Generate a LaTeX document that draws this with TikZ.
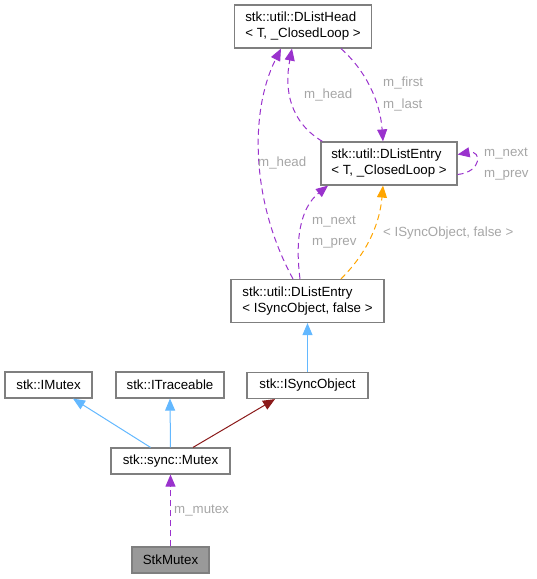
\documentclass[tikz,border=0pt]{standalone}
\usepackage{fontspec}
\setmainfont{Liberation Sans}
\usetikzlibrary{arrows.meta}

\definecolor{inhblue}{HTML}{63B8FF}
\definecolor{usepurple}{HTML}{9A32CD}
\definecolor{tmplorange}{HTML}{FFA500}
\definecolor{privred}{HTML}{8B1A1A}
\definecolor{boxgray}{HTML}{7F7F7F}
\definecolor{lblgray}{HTML}{A6A6A6}

\begin{document}
\begin{tikzpicture}[
    x=1pt, y=-1pt,
    font=\fontsize{13.3}{16}\selectfont,
    every node/.style={inner sep=0pt},
    cls/.style={draw=boxgray, line width=1.2pt, fill=white, align=left, minimum height=26pt},
    cls2/.style={cls, minimum height=43pt},
    tip/.style={-{Triangle[length=12pt,width=10pt]}},
    inh/.style={tip, draw=inhblue, line width=1pt},
    priv/.style={tip, draw=privred, line width=1pt},
    usage/.style={tip, draw=usepurple, line width=1pt, dash pattern=on 6pt off 4pt},
    tmpl/.style={tip, draw=tmplorange, line width=1pt, dash pattern=on 6pt off 4pt},
    lbl/.style={text=lblgray, anchor=west}
]
\useasboundingbox (0,0) rectangle (537,579);

% classes
\node[cls2, minimum width=137pt] (head) at (303,26.5) {stk::util::DListHead\\< T, \_ClosedLoop >};
\node[cls2, minimum width=136pt] (entryT) at (389,163.5) {stk::util::DListEntry\\< T, \_ClosedLoop >};
\node[cls2, minimum width=153pt] (entryS) at (307.5,301) {stk::util::DListEntry\\< ISyncObject, false >};
\node[cls, minimum width=87pt] (imutex) at (48.5,385) {stk::IMutex};
\node[cls, minimum width=108pt] (itrace) at (170,385) {stk::ITraceable};
\node[cls, minimum width=121pt] (isync) at (307.5,385.5) {stk::ISyncObject};
\node[cls, minimum width=119pt] (mutex) at (170.5,461) {stk::sync::Mutex};
\node[cls, minimum width=77pt, fill={rgb,255:red,153;green,153;blue,153}] (stk) at (170.5,560) {StkMutex};

% DList links
\draw[usage] ([xshift=-14.5pt]entryS.north) .. controls (250,200) and (250,110) .. ([xshift=-22pt]head.south);
\draw[usage] ([xshift=2pt]entryT.north west) .. controls (290,122) and (284,90) .. ([xshift=-11pt]head.south);
\draw[usage] ([xshift=38pt]head.south) .. controls (365,70) and (380,100) .. ([xshift=-6pt]entryT.north);
\draw[usage] ([yshift=-11pt]entryT.east) .. controls (482,172) and (482,150) .. ([yshift=9pt]entryT.east);
\draw[usage] ([xshift=-7.5pt]entryS.north) .. controls (295,240) and (300,208) .. ([xshift=-61pt]entryT.south);
\draw[tmpl] ([xshift=33.5pt]entryS.north) .. controls (370,250) and (380,220) .. ([xshift=-6pt]entryT.south);

\node[lbl] (lhead1) at (258,163) {m\_head};
\node[lbl] (lhead2) at (304,95) {m\_head};
\node[lbl] (lfirst) at (383,83) {m\_first};
\node[lbl] (llast) at (383,105) {m\_last};
\node[lbl] (lnext1) at (484,154) {m\_next};
\node[lbl] (lprev1) at (484,175) {m\_prev};
\node[lbl] (lnext2) at (312,222) {m\_next};
\node[lbl] (lprev2) at (312,243) {m\_prev};
\node[lbl] (ltmpl) at (383,233) {< ISyncObject, false >};

% inheritance
\draw[inh] (isync.north) -- (entryS.south);
\draw[inh] ([xshift=-20pt]mutex.north) -- ([xshift=24.5pt]imutex.south);
\draw[inh] (mutex.north) -- (itrace.south);
\draw[priv] ([xshift=22.5pt]mutex.north) -- ([xshift=-32.5pt]isync.south);

% member
\draw[usage] (stk.north) -- (mutex.south);
\node[lbl] (lmutex) at (174,511) {m\_mutex};
\end{tikzpicture}
\end{document}
